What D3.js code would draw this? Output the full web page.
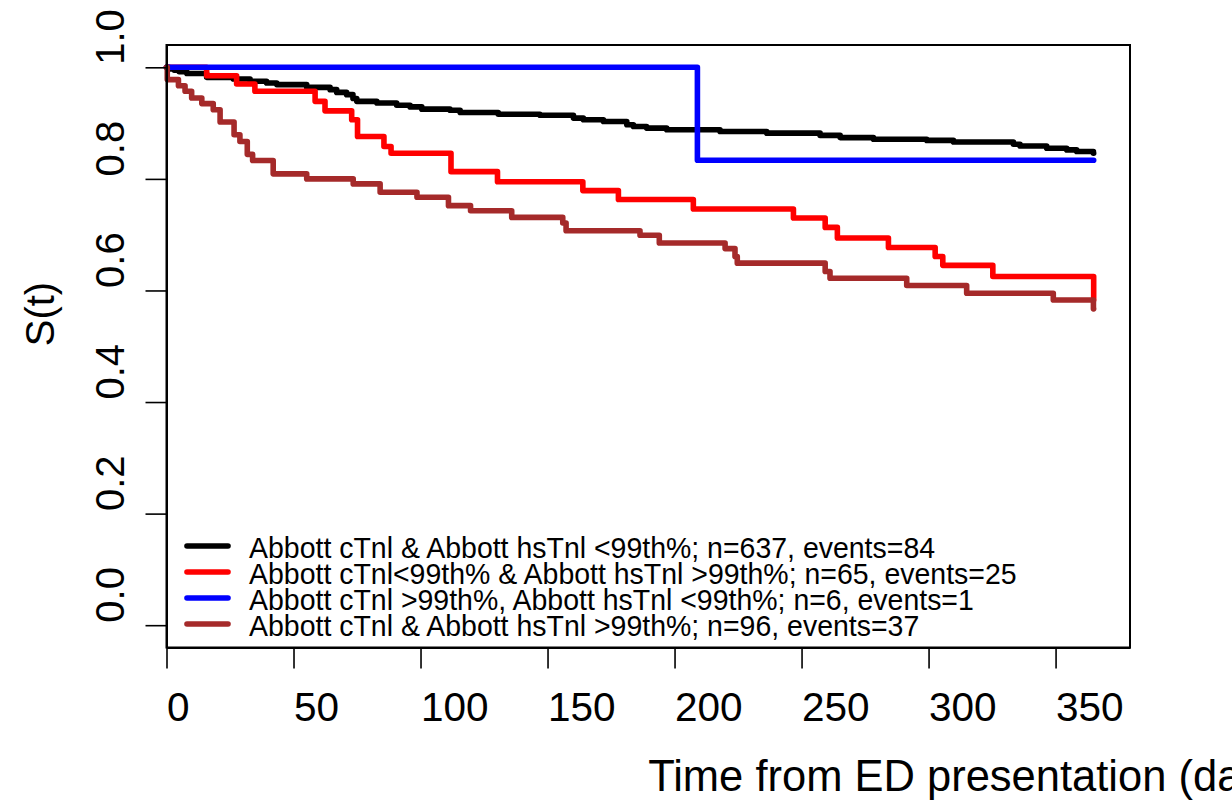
<!DOCTYPE html>
<html>
<head>
<meta charset="utf-8">
<script src="https://cdn.jsdelivr.net/npm/d3@7"></script>
<style>
  html, body { margin: 0; padding: 0; background: #fff; }
  svg { display: block; }
  text { font-family: "Liberation Sans", Arial, Helvetica, sans-serif; fill: #000; }
</style>
</head>
<body>
<svg id="chart" width="1232" height="806"></svg>
<script>
// ---------------- data ----------------
const xTicks = [0, 50, 100, 150, 200, 250, 300, 350];
const yTicks = [0.0, 0.2, 0.4, 0.6, 0.8, 1.0];
const yTickLabels = ["0.0", "0.2", "0.4", "0.6", "0.8", "1.0"];

const seriesNames = [
  "Abbott cTnl & Abbott hsTnl <99th%; n=637, events=84",
  "Abbott cTnl<99th% & Abbott hsTnl >99th%; n=65, events=25",
  "Abbott cTnl >99th%, Abbott hsTnl <99th%; n=6, events=1",
  "Abbott cTnl & Abbott hsTnl >99th%; n=96, events=37"
];
const seriesColors = ["#000000", "#FF0000", "#0000FF", "#A52A2A"];

// Kaplan-Meier step curves: times (days) and survival after each time
const blackTimes = [0, 1, 3, 5, 8, 15.8, 26.3, 32.9, 39.4, 43.4, 55.2, 64.4, 67, 70.9, 73.4, 74.9, 82.8, 90.6, 95.9, 100.5, 111.6, 115.6, 130.6, 147, 160.2, 164.1, 172, 181.2, 183.8, 189, 196.9, 217.9, 236.3, 257.3, 265.2, 278.3, 299.3, 309.8, 333.4, 336, 346.5, 354.4, 358.3, 364.9, 365];
const blackSurv  = [1, 0.997, 0.995, 0.992, 0.989, 0.982, 0.979, 0.975, 0.972, 0.969, 0.964, 0.960, 0.955, 0.951, 0.944, 0.939, 0.936, 0.932, 0.929, 0.925, 0.923, 0.919, 0.916, 0.914, 0.909, 0.906, 0.903, 0.897, 0.894, 0.891, 0.888, 0.885, 0.882, 0.878, 0.874, 0.871, 0.869, 0.866, 0.862, 0.859, 0.855, 0.852, 0.849, 0.846, 0.846];

const redTimes = [0, 15.8, 27.6, 34.8, 58.5, 62.4, 72.9, 75.2, 85.6, 88.4, 112, 130.3, 163.9, 177.9, 207.4, 246.8, 259.3, 264.1, 284.2, 302.6, 305.6, 325.3, 365, 365];
const redSurv  = [1, 0.985, 0.970, 0.957, 0.939, 0.922, 0.906, 0.876, 0.858, 0.846, 0.813, 0.795, 0.779, 0.763, 0.746, 0.730, 0.713, 0.694, 0.677, 0.661, 0.645, 0.625, 0.625, 0.583];

const blueTimes = [0, 209, 365];
const blueSurv  = [1, 0.8333, 0.8333];

const brownTimes = [0, 0.3, 4.7, 7.3, 9.9, 13.9, 18.4, 21.1, 26.6, 28.9, 31.8, 33.9, 42, 55.2, 73.5, 84.1, 98.6, 111, 119.7, 135.9, 156, 157.3, 186.4, 194, 219.9, 223.8, 224.7, 259.3, 261.2, 291.4, 315, 349.1, 364.9, 365];
const brownSurv  = [1, 0.978, 0.967, 0.957, 0.945, 0.935, 0.924, 0.902, 0.879, 0.867, 0.844, 0.833, 0.809, 0.800, 0.791, 0.776, 0.767, 0.752, 0.743, 0.731, 0.721, 0.707, 0.699, 0.685, 0.675, 0.661, 0.649, 0.634, 0.622, 0.609, 0.595, 0.583, 0.567, 0.567];

const xLabel = "Time from ED presentation (days)";
const yLabel = "S(t)";

// ---------------- drawing ----------------
const svg = d3.select("#chart");
const plot = { left: 166.5, right: 1130, top: 45, bottom: 647.5 };

const x = d3.scaleLinear().domain([0, 379.3]).range([plot.left, plot.right]);
const y = d3.scaleLinear().domain([-0.04, 1.04]).range([plot.bottom, plot.top]);

svg.append("rect").attr("width", 1232).attr("height", 806).attr("fill", "#fff");

// curves
const lineGen = d3.line()
  .x(d => x(d[0]))
  .y(d => y(d[1]))
  .curve(d3.curveStepAfter);

const curves = [
  [blackTimes, blackSurv],
  [redTimes, redSurv],
  [blueTimes, blueSurv],
  [brownTimes, brownSurv]
];

const gCurves = svg.append("g");
curves.forEach((c, i) => {
  const pts = c[0].map((t, k) => [t, c[1][k]]);
  gCurves.append("path")
    .attr("d", lineGen(pts))
    .attr("fill", "none")
    .attr("stroke", seriesColors[i])
    .attr("stroke-width", 5.6)
    .attr("stroke-linejoin", "round")
    .attr("stroke-linecap", "round");
});

// box
svg.append("rect")
  .attr("x", plot.left).attr("y", plot.top)
  .attr("width", plot.right - plot.left).attr("height", plot.bottom - plot.top)
  .attr("fill", "none").attr("stroke", "#000").attr("stroke-width", 2);

// x axis
const xAxis = svg.append("g")
  .attr("transform", `translate(0,${plot.bottom})`)
  .call(d3.axisBottom(x).tickValues(xTicks).tickSize(21).tickSizeOuter(0).tickFormat(d3.format("d")));
xAxis.select(".domain").attr("stroke-width", 2);
xAxis.selectAll(".tick line").attr("stroke-width", 1.6);
xAxis.selectAll(".tick text")
  .attr("y", 73.5).attr("dy", null)
  .attr("text-anchor", "start")
  .attr("font-size", 40.5)
  .attr("font-family", "'Liberation Sans', Arial, sans-serif")
  .attr("fill", "#000");

// y axis
const yAxis = svg.append("g")
  .attr("transform", `translate(${plot.left},0)`)
  .call(d3.axisLeft(y).tickValues(yTicks).tickSize(21).tickSizeOuter(0)
        .tickFormat((d, i) => yTickLabels[i]));
yAxis.select(".domain").attr("stroke-width", 2);
yAxis.selectAll(".tick line").attr("stroke-width", 1.6);
yAxis.selectAll(".tick text")
  .attr("x", null).attr("dy", null)
  .attr("transform", "translate(-43,-3) rotate(-90)")
  .attr("text-anchor", "start")
  .attr("font-size", 40)
  .attr("font-family", "'Liberation Sans', Arial, sans-serif")
  .attr("fill", "#000");

// axis titles
svg.append("text")
  .attr("x", (plot.left + plot.right) / 2)
  .attr("y", 791)
  .attr("text-anchor", "start")
  .attr("font-size", 43.5)
  .text(xLabel);

svg.append("text")
  .attr("transform", `translate(54,${(plot.top + plot.bottom) / 2}) rotate(-90)`)
  .attr("text-anchor", "start")
  .attr("font-size", 40)
  .text(yLabel);

// legend
const legend = svg.append("g");
const legendRowY = d3.scaleLinear().domain([0, 3]).range([546, 624]);
seriesNames.forEach((name, i) => {
  const ry = legendRowY(i);
  legend.append("line")
    .attr("x1", 187).attr("x2", 228)
    .attr("y1", ry).attr("y2", ry)
    .attr("stroke", seriesColors[i])
    .attr("stroke-width", 5.6)
    .attr("stroke-linecap", "round");
  const t = legend.append("text")
    .attr("x", 249)
    .attr("y", ry + 11.5)
    .attr("font-size", 29.5)
    .text(name);
  const w = t.node().getComputedTextLength();
  t.attr("textLength", w * 0.965).attr("lengthAdjust", "spacingAndGlyphs");
});
</script>
</body>
</html>
